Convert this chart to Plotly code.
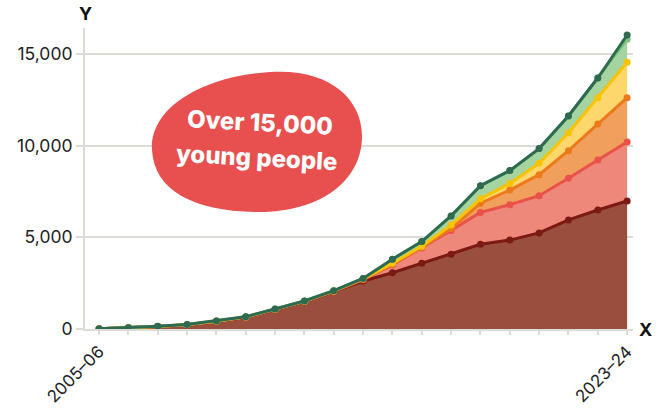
import plotly.graph_objects as go

years = ["2005–06","2006–07","2007–08","2008–09","2009–10","2010–11","2011–12","2012–13",
         "2013–14","2014–15","2015–16","2016–17","2017–18","2018–19","2019–20","2020–21",
         "2021–22","2022–23","2023–24"]
tick_labels = ["2005–06"] + [""] * 17 + ["2023–24"]

series_a = [15, 60, 130, 230, 410, 640, 1050, 1490, 2040, 2620, 3070, 3580, 4080, 4620, 4850, 5240, 5950, 6490, 6980]
series_b = [2, 3, 4, 5, 6, 7, 8, 9, 12, 70, 430, 840, 1300, 1740, 1930, 2030, 2270, 2730, 3220]
series_c = [1, 2, 3, 3, 4, 5, 6, 7, 10, 20, 40, 40, 100, 500, 800, 1150, 1510, 1960, 2420]
series_d = [1, 2, 4, 5, 8, 8, 10, 10, 13, 30, 40, 50, 190, 240, 360, 620, 980, 1440, 1930]
series_e = [1, 3, 9, 7, 12, 10, 16, 14, 15, 20, 230, 260, 500, 720, 700, 800, 910, 1070, 1250]
series_f = [0, 0, 0, 0, 0, 0, 0, 0, 0, 0, 0, 0, 0, 0, 0, 0, 0, 0, 240]

styles = [
    (series_a, "#7a1a12", "#9a4e3e"),
    (series_b, "#e8524a", "#ee887a"),
    (series_c, "#ec7a1c", "#f0a05c"),
    (series_d, "#f8c300", "#fdd66c"),
    (series_e, "#7cc27c", "#a6d4a0"),
    (series_f, "#2e6a50", "#a6d4a0"),
]

x = list(range(len(years)))
fig = go.Figure()
for vals, lc, fc in styles:
    fig.add_trace(go.Scatter(
        x=x, y=vals, stackgroup="s", mode="lines+markers",
        line=dict(color=lc, width=3), marker=dict(color=lc, size=7),
        fillcolor=fc, hoverinfo="skip", showlegend=False,
    ))

L, R, T, B = 85, 29, 28, 79
W, H = 662, 408
pw, ph = W - L - R, H - T - B

def px(v):
    return (v - L) / pw

def py(v):
    return (H - B - v) / ph

blob = [
    ("M", [(152, 150)]),
    ("C", [(150, 106), (205, 76), (270, 72)]),
    ("C", [(328, 68), (363, 98), (362, 138)]),
    ("C", [(361, 180), (322, 213), (255, 212)]),
    ("C", [(193, 211), (154, 190), (152, 150)]),
]
path = ""
for cmd, pts in blob:
    path += cmd + " " + " ".join(f"{px(a):.4f},{py(b):.4f}" for a, b in pts) + " "
path += "Z"

fig.add_shape(type="path", path=path, xref="paper", yref="paper",
              fillcolor="#e85050", line=dict(width=0), layer="above")

fig.add_annotation(text="Over 15,000", xref="paper", yref="paper",
                   x=px(260), y=py(123), showarrow=False, textangle=3,
                   xanchor="center", yanchor="middle",
                   font=dict(family="Inter", size=24, color="white", weight=800))
fig.add_annotation(text="young people", xref="paper", yref="paper",
                   x=px(256), y=py(157), showarrow=False, textangle=3,
                   xanchor="center", yanchor="middle",
                   font=dict(family="Inter", size=24, color="white", weight=800))

fig.add_annotation(text="<b>Y</b>", xref="paper", yref="paper", x=0, y=py(14),
                   showarrow=False, xanchor="center", yanchor="middle",
                   font=dict(family="Inter", size=18, color="#111"))
fig.add_annotation(text="<b>X</b>", xref="paper", yref="paper", x=px(645), y=py(329),
                   showarrow=False, xanchor="center", yanchor="middle",
                   font=dict(family="Inter", size=18, color="#111"))

fig.update_layout(
    width=W, height=H, margin=dict(l=L, r=R, t=T, b=B, autoexpand=False),
    plot_bgcolor="white", paper_bgcolor="white",
    font=dict(family="Inter", size=17.5, color="#222"),
)
fig.update_xaxes(
    range=[-0.48, 18.2], tickmode="array", tickvals=x, ticktext=tick_labels,
    tickangle=-45, ticks="outside", ticklen=4, tickcolor="#dddbd5", tickwidth=2,
    tickfont=dict(size=17),
    showgrid=False, showline=True, linecolor="#dddbd5", linewidth=2, zeroline=False,
    automargin=False,
)
fig.update_yaxes(
    range=[0, 16420], tickvals=[0, 5000, 10000, 15000], tickformat=",",
    ticks="outside", ticklen=7, tickcolor="#dddbd5", tickwidth=2,
    showgrid=True, gridcolor="#dddbd5", gridwidth=2,
    showline=True, linecolor="#dddbd5", linewidth=2, zeroline=False,
    automargin=False,
)

fig.write_html("out.html")
